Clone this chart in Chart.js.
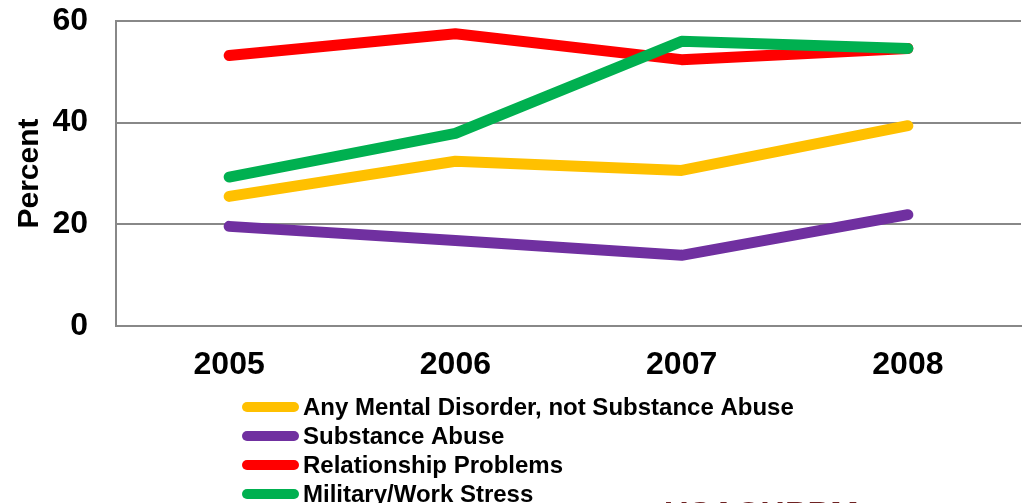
<!DOCTYPE html>
<html>
<head>
<meta charset="utf-8">
<script src="https://cdn.jsdelivr.net/npm/chart.js@4"></script>
<style>
  html, body { margin: 0; padding: 0; background: #fff; }
  #wrap { width: 1025px; height: 503px; }
</style>
</head>
<body>
<div id="wrap"><canvas id="chart" width="1025" height="503"></canvas></div>
<script>
const years = ['2005', '2006', '2007', '2008'];
const seriesNames = [
    'Any Mental Disorder, not Substance Abuse',
    'Substance Abuse',
    'Relationship Problems',
    'Military/Work Stress'
];
const mentalDisorder = [25.5, 32.4, 30.6, 39.4];
const substanceAbuse = [19.6, 16.8, 13.9, 21.9];
const relationship = [53.2, 57.5, 52.4, 54.6];
const workStress = [29.3, 37.9, 56.0, 54.6];
const seriesColors = ['#FFC000', '#7030A0', '#FF0000', '#00B050'];
const yTicks = [0, 20, 40, 60];

const seriesValues = [mentalDisorder, substanceAbuse, relationship, workStress];

// listed last-first so green ends up drawn on top
const datasets = [3, 2, 1, 0].map(i => ({
    label: seriesNames[i],
    data: seriesValues[i],
    borderColor: seriesColors[i],
    backgroundColor: seriesColors[i],
    borderWidth: 11,
    borderCapStyle: 'round',
    borderJoinStyle: 'round',
    pointRadius: 0,
    tension: 0,
    fill: false
}));

// legend one item per row, plus the cut-off footer mark
const stackedLegend = {
    id: 'stackedLegend',
    afterDraw(chart) {
        const ctx = chart.ctx;
        ctx.save();
        ctx.font = 'bold 24px "Liberation Sans", Arial, sans-serif';
        ctx.textBaseline = 'middle';
        seriesNames.forEach((name, i) => {
            const y = 407 + i * 29;
            ctx.strokeStyle = seriesColors[i];
            ctx.lineWidth = 10;
            ctx.lineCap = 'round';
            ctx.beginPath();
            ctx.moveTo(247, y);
            ctx.lineTo(294, y);
            ctx.stroke();
            ctx.fillStyle = '#000';
            ctx.fillText(name, 303, y + 1);
        });
        ctx.fillStyle = '#6E2222';
        ctx.font = 'bold 34px "Liberation Sans", Arial, sans-serif';
        ctx.textBaseline = 'top';
        ctx.fillText('USACHPPM', 664, 499);
        ctx.restore();
    }
};

const ctx = document.getElementById('chart').getContext('2d');
new Chart(ctx, {
    type: 'line',
    data: { labels: years, datasets: datasets },
    options: {
        responsive: false,
        animation: false,
        layout: { padding: { top: 21, right: 4, bottom: 127, left: 0 } },
        plugins: {
            legend: { display: false },
            tooltip: { enabled: false }
        },
        scales: {
            x: {
                offset: true,
                grid: { display: false, drawTicks: false },
                border: { color: '#888', width: 2 },
                ticks: {
                    color: '#000',
                    padding: 20,
                    font: { family: '"Liberation Sans", Arial, sans-serif', size: 32, weight: 'bold' }
                },
                afterFit(scale) {
                    scale.height = 50;
                    scale.paddingLeft = 0;
                    scale.paddingRight = 0;
                }
            },
            y: {
                min: 0,
                max: 60,
                afterBuildTicks(scale) { scale.ticks = yTicks.map(v => ({ value: v })); },
                grid: { color: '#888', lineWidth: 2, drawTicks: false },
                border: { color: '#888', width: 2 },
                ticks: {
                    color: '#000',
                    padding: 28,
                    font: { family: '"Liberation Sans", Arial, sans-serif', size: 32, weight: 'bold' }
                },
                title: {
                    display: true,
                    text: 'Percent',
                    color: '#000',
                    padding: { top: 12, bottom: 0 },
                    font: { family: '"Liberation Sans", Arial, sans-serif', size: 30, weight: 'bold' }
                },
                afterFit(scale) {
                    scale.width = 116;
                    scale.paddingTop = 0;
                    scale.paddingBottom = 0;
                }
            }
        }
    },
    plugins: [stackedLegend]
});
</script>
</body>
</html>
